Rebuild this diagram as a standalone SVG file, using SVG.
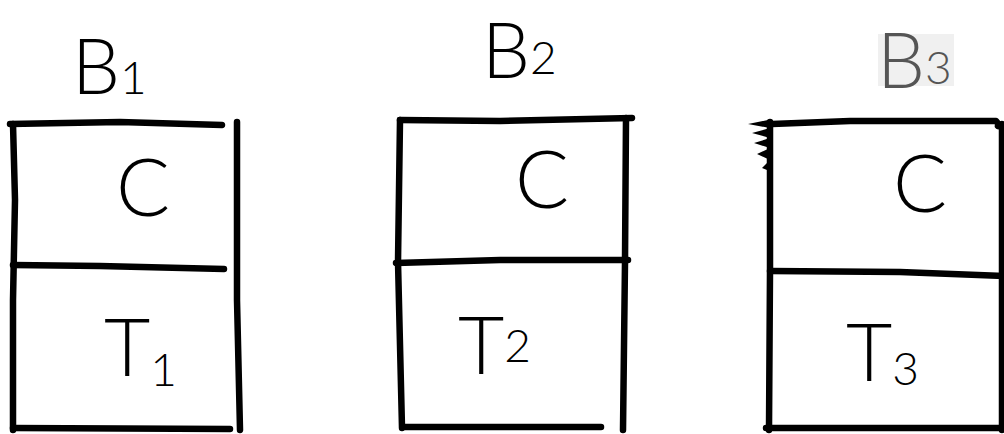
<svg xmlns="http://www.w3.org/2000/svg" width="1004" height="434" viewBox="0 0 1004 434">
<style>
.ln{fill:none;stroke:#000;stroke-width:6.5;stroke-linecap:round;stroke-linejoin:round}
.hd{font-family:Lato,"Open Sans","Liberation Sans",sans-serif;font-weight:300;fill:#000}
.big{font-size:80px}
.lbl{font-size:76px}
.sub{font-size:46px}
</style>
<rect width="1004" height="434" fill="#fff"/>
<g id="connectors"/>
<g id="B1">
<text class="hd lbl" x="72" y="94">B<tspan class="sub">1</tspan></text>
<path class="ln" d="M10,124 L120,122 L222,125"/>
<path class="ln" d="M13,124 L15,200 L13,300 L13,430"/>
<path class="ln" d="M237,122 L237,300 L240,430"/>
<path class="ln" d="M13,265 L100,266 L224,269"/>
<path class="ln" d="M13,428 L230,429"/>
<text class="hd big" x="143" y="216" text-anchor="middle">C</text>
<text class="hd big" x="104" y="376">T<tspan class="sub" dy="10">1</tspan></text>
</g>
<g id="B2">
<text class="hd lbl" x="482" y="78">B<tspan class="sub" dy="-4">2</tspan></text>
<path class="ln" d="M400,120 L500,121 L632,118"/>
<path class="ln" d="M400,120 L398,262 L402,428"/>
<path class="ln" d="M626,118 L625,262 L623,430"/>
<path class="ln" d="M396,263 L500,260 L628,260"/>
<path class="ln" d="M403,427 L601,427"/>
<text class="hd big" x="542" y="208" text-anchor="middle">C</text>
<text class="hd big" x="458" y="374">T<tspan class="sub" dy="-12">2</tspan></text>
</g>
<g id="B3">
<rect x="878" y="34" width="76" height="52" fill="#f0f0f0"/>
<text class="hd lbl" x="877" y="88" style="fill:#555">B<tspan class="sub" dy="-4">3</tspan></text>
<path d="M768,120 L748,124 L770,128 L752,133 L770,138 L754,143 L770,148 L757,154 L770,160 L762,168 L772,172 Z" fill="#000"/>
<path class="ln" d="M772,124 L850,121 L996,121 Q999,124 998,126"/>
<path class="ln" d="M770,122 L770,270 L769,430"/>
<path class="ln" d="M1002,124 L1002,430"/>
<path class="ln" d="M770,271 L900,272 L1004,276"/>
<path class="ln" d="M766,428 L1004,428"/>
<text class="hd big" x="920" y="212" text-anchor="middle">C</text>
<text class="hd big" x="846" y="381">T<tspan class="sub" dy="4">3</tspan></text>
</g>
</svg>
